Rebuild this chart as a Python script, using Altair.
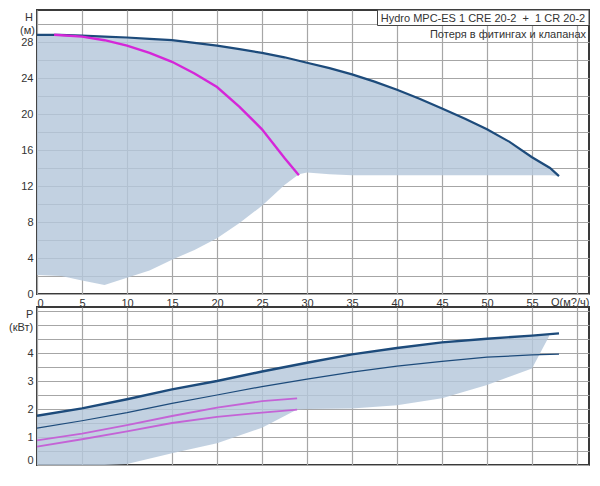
import altair as alt
import pandas as pd

# ---------------- Top panel: H (m) vs Q (m3/h) ----------------
q_max = [0, 2.5, 5, 7.5, 10, 12.5, 15, 17.5, 20, 22.5, 25, 27.5, 30, 32.5, 35, 37.5,
         40, 42.5, 45, 47.5, 50, 52.5, 55, 57, 58]
h_max = [28.8, 28.8, 28.7, 28.6, 28.5, 28.35, 28.2, 27.9, 27.6, 27.2, 26.8, 26.3, 25.7,
         25.1, 24.4, 23.6, 22.7, 21.7, 20.6, 19.5, 18.3, 16.9, 15.2, 14.0, 13.1]

q_one = [1.9, 5, 7.5, 10, 12.5, 15, 17.5, 20, 22.5, 25, 27.5, 29.1]
h_one = [28.8, 28.6, 28.2, 27.6, 26.8, 25.8, 24.5, 23.0, 20.8, 18.3, 15.1, 13.2]

q_hfill = [0, 2.7, 5, 7.5, 10, 12.5, 15, 17.5, 20, 22.5, 25, 27.5, 29.1, 30, 32.5, 35,
           40, 45, 50, 55, 57, 58]
h_fill_top = [28.8, 28.8, 28.7, 28.6, 28.5, 28.35, 28.2, 27.9, 27.6, 27.2, 26.8, 26.3,
              25.9, 25.7, 25.1, 24.4, 22.7, 20.6, 18.3, 15.2, 14.0, 13.1]
h_fill_low = [2.1, 2.0, 1.5, 1.0, 1.8, 2.6, 3.8, 4.9, 6.2, 7.9, 9.8, 12.1, 13.3, 13.5,
              13.3, 13.2, 13.2, 13.2, 13.2, 13.2, 13.2, 13.1]

# ---------------- Bottom panel: P (kW) vs Q ----------------
q_p = [0, 5, 10, 15, 20, 25, 30, 35, 40, 45, 50, 55, 58]
p_max = [1.76, 2.02, 2.35, 2.7, 3.0, 3.34, 3.65, 3.95, 4.18, 4.38, 4.51, 4.62, 4.7]
p_two = [1.32, 1.58, 1.87, 2.2, 2.5, 2.8, 3.07, 3.32, 3.53, 3.7, 3.85, 3.93, 3.96]

q_pm = [0, 5, 10, 15, 20, 25, 28.9]
p_m_upper = [0.88, 1.12, 1.42, 1.75, 2.05, 2.28, 2.38]
p_m_lower = [0.66, 0.92, 1.2, 1.5, 1.72, 1.87, 1.98]

q_pfill = [0, 5, 7.5, 10, 15, 20, 25, 28.9, 30, 35, 40, 45, 50, 55, 56.9]
p_fill_top = [1.76, 2.02, 2.18, 2.35, 2.7, 3.0, 3.34, 3.6, 3.65, 3.95, 4.18, 4.38, 4.51, 4.62, 4.66]
p_fill_low = [0, 0, 0, 0.04, 0.42, 0.78, 1.33, 1.98, 2.0, 2.02, 2.13, 2.38, 2.86, 3.45, 4.6]

# ticks / grid
x_grid = [0, 5, 10, 15, 20, 25, 30, 35, 40, 45, 50, 55, 60]
x_last_label = 55
h_grid = [0, 2, 4, 6, 8, 10, 12, 14, 16, 18, 20, 22, 24, 26, 28, 30]
h_label_step = 4
p_grid = [0, 0.5, 1, 1.5, 2, 2.5, 3, 3.5, 4, 4.5, 5, 5.5]
p_last_label = 4

title_text = "Hydro MPC-ES 1 CRE 20-2\u00a0\u00a0+\u00a0\u00a01 CR 20-2"
subtitle_text = "Потеря в фитингах и клапанах"
x_title = "Q(м?/ч)"
h_title = ["H", "(м)"]
p_title = ["P", "(кВт)"]

FONT = "Liberation Sans"
FILL = "#b5c7da"
BLUE = "#1d4b7b"
MAG = "#d526d8"
MAG2 = "#c463d6"
GRID = "#a6a6a6"
TXT = "#333333"
W = 552
H_TOP = 284
H_BOT = 158
PX_Q = 9     # pixels per m3/h
PX_H = 9     # pixels per m
PX_P = 28    # pixels per kW

xscale = alt.Scale(domain=[0, W / PX_Q], nice=False, zero=False)
hscale = alt.Scale(domain=[0, H_TOP / PX_H], nice=False, zero=False)
pscale = alt.Scale(domain=[0, H_BOT / PX_P], nice=False, zero=False)

common = dict(ticks=False, domain=False, grid=True, gridColor=GRID, gridWidth=1.2,
              gridOpacity=1, labelFontSize=11, labelFont=FONT,
              labelColor=TXT, title=None)
xaxis_top = alt.Axis(values=x_grid, labelPadding=3,
                     labelExpr=f"datum.value <= {x_last_label} ? datum.label : ''",
                     **common)
xaxis_bot = alt.Axis(values=x_grid, labels=False, **common)
haxis = alt.Axis(values=h_grid, labelPadding=4,
                 labelExpr=f"datum.value % {h_label_step} == 0 ? datum.label : ''",
                 **common)
paxis = alt.Axis(values=p_grid, labelPadding=4, labelFlush=True,
                 labelExpr=(f"(datum.value % 1 == 0 && datum.value <= {p_last_label})"
                            " ? format(datum.value, 'd') : ''"),
                 **common)

X_TOP = alt.X("Q:Q", scale=xscale, axis=xaxis_top)
X_BOT = alt.X("Q:Q", scale=xscale, axis=xaxis_bot)
Y_H = alt.Y("H:Q", scale=hscale, axis=haxis)
Y_P = alt.Y("P:Q", scale=pscale, axis=paxis)

one = pd.DataFrame({"k": [0]})


def label(text, x, y, align="right", baseline="alphabetic"):
    return alt.Chart(one).mark_text(font=FONT, fontSize=11, color=TXT, align=align,
                                    baseline=baseline).encode(
        x=alt.value(x), y=alt.value(y), text=alt.value(text))


# ---- top panel layers
df_hfill = pd.DataFrame({"Q": q_hfill, "H": h_fill_top, "H2": h_fill_low})
df_hmax = pd.DataFrame({"Q": q_max, "H": h_max})
df_hone = pd.DataFrame({"Q": q_one, "H": h_one})

top_fill = alt.Chart(df_hfill).mark_area(color=FILL, opacity=0.82).encode(
    x=X_TOP, y=Y_H, y2="H2:Q")
top_max = alt.Chart(df_hmax).mark_line(color=BLUE, strokeWidth=2.2).encode(x=X_TOP, y=Y_H)
top_one = alt.Chart(df_hone).mark_line(color=MAG, strokeWidth=2.4).encode(x=X_TOP, y=Y_H)
box = alt.Chart(one).mark_rect(fill="white", stroke="#444", strokeWidth=1).encode(
    x=alt.value(340.5), x2=alt.value(W), y=alt.value(0), y2=alt.value(15.5))
box_text = label(title_text, 446, 12, align="center")
sub_text = label(subtitle_text, W - 3, 28)
h_t1 = label(h_title[0], -12, 11, align="left")
h_t2 = label(h_title[1], -17, 24, align="left")
x_t = label(x_title, 514, H_TOP + 3, align="left", baseline="top")

top = alt.layer(top_fill, top_max, top_one, box, box_text, sub_text, h_t1, h_t2,
                x_t).properties(width=W, height=H_TOP)

# ---- bottom panel layers
df_pfill = pd.DataFrame({"Q": q_pfill, "P": p_fill_top, "P2": p_fill_low})
df_pmax = pd.DataFrame({"Q": q_p, "P": p_max})
df_ptwo = pd.DataFrame({"Q": q_p, "P": p_two})
df_pm1 = pd.DataFrame({"Q": q_pm, "P": p_m_upper})
df_pm2 = pd.DataFrame({"Q": q_pm, "P": p_m_lower})

bot_fill = alt.Chart(df_pfill).mark_area(color=FILL, opacity=0.82).encode(
    x=X_BOT, y=Y_P, y2="P2:Q")
bot_max = alt.Chart(df_pmax).mark_line(color=BLUE, strokeWidth=2.4).encode(x=X_BOT, y=Y_P)
bot_two = alt.Chart(df_ptwo).mark_line(color=BLUE, strokeWidth=1.2).encode(x=X_BOT, y=Y_P)
bot_m1 = alt.Chart(df_pm1).mark_line(color=MAG2, strokeWidth=1.8).encode(x=X_BOT, y=Y_P)
bot_m2 = alt.Chart(df_pm2).mark_line(color=MAG2, strokeWidth=1.8).encode(x=X_BOT, y=Y_P)
p_t1 = label(p_title[0], -11, 11, align="left")
p_t2 = label(p_title[1], -28, 24, align="left")

bottom = alt.layer(bot_fill, bot_max, bot_two, bot_m1, bot_m2, p_t1,
                   p_t2).properties(width=W, height=H_BOT)

chart = alt.vconcat(top, bottom, spacing=13, bounds="flush").configure_view(
    stroke="#3a3a3a", strokeWidth=2).properties(background="white", padding=0)

chart.save("out.html", embed_options={"renderer": "svg", "actions": False})
